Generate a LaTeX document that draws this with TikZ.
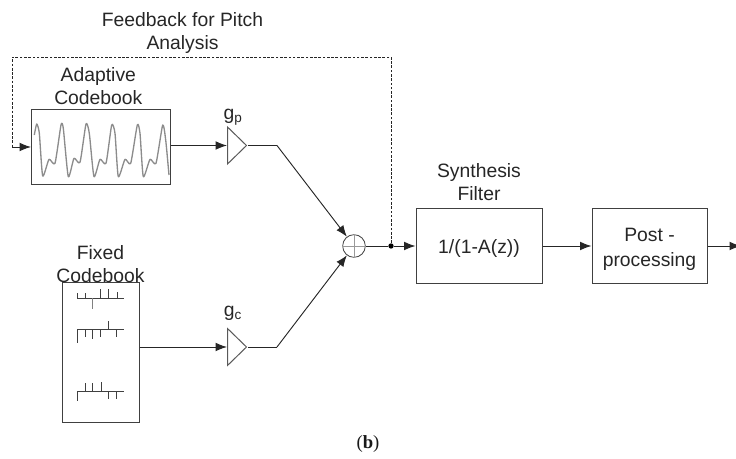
\documentclass[tikz,border=0pt]{standalone}
\usepackage{fontspec}
\setmainfont{Liberation Sans}
\newfontfamily\capfont{Liberation Serif}
\usetikzlibrary{arrows.meta,positioning,shapes.geometric}
\tikzset{
  wire/.style={draw=black!85, line width=0.7pt},
  arrowwire/.style={wire, -{Latex[length=8.5pt,width=6.5pt]}},
  blockbox/.style={draw=black!75, line width=0.75pt, inner sep=0pt, align=center},
  gainamp/.style={isosceles triangle, isosceles triangle stretches, draw=black!65, line width=0.75pt,
    minimum width=27.75pt, minimum height=14.25pt, inner sep=0pt, anchor=lower side},
  blocktext/.style={font=\fontsize{14.5}{17.25}\selectfont, text=black!85, align=center, inner sep=0pt},
  comb/.style={draw=black!75, line width=0.6pt},
}
\begin{document}
\begin{tikzpicture}[x=0.75pt,y=-0.75pt]
  \useasboundingbox (0,0) rectangle (736,459);
  % blocks
  \node[blockbox, minimum width=104.25pt, minimum height=55.9pt] (adaptive) at (101,147.2) {};
  \node[blockbox, minimum width=57.75pt, minimum height=105pt] (fixed) at (100.5,353) {};
  \node[blockbox, blocktext, draw=black!75, minimum width=94.5pt, minimum height=56.25pt] (synth) at (479,246.5) {\rule{0pt}{14pt}1/(1-A(z))};
  \node[blockbox, blocktext, draw=black!75, minimum width=86.25pt, minimum height=56.25pt, font=\fontsize{14.5}{18.5}\selectfont] (post) at (649.5,246.5) {\rule{0pt}{14pt}Post -\\processing};
  % gains
  \node[gainamp] (gainp) at (227,145.5) {};
  \node[gainamp] (gainc) at (227,347) {};
  % sum
  \node[circle, draw=black!75, line width=0.6pt, minimum size=17pt, inner sep=0pt] (sum) at (354,246) {};
  \draw[black!40, line width=0.6pt] (sum.north) -- (sum.south) (sum.west) -- (sum.east);
  % labels
  \node[blocktext, above=3pt of adaptive, xshift=-2pt] (adaptlabel) {Adaptive\\Codebook};
  \node[blocktext, above=0pt of fixed] (fixedlabel) {Fixed\\Codebook};
  \node[blocktext, above=6pt of synth] (synthlabel) {Synthesis\\Filter};
  \node[blocktext] (feedlabel) at (182.5,33) {Feedback for Pitch\\Analysis};
  \node[blocktext] (gplabel) at (233,117) {g\textsubscript{p}};
  \node[blocktext] (gclabel) at (233,313) {g\textsubscript{c}};
  \node[font=\capfont\fontsize{14}{16}\selectfont, text=black!90, inner sep=0pt] (caption) at (368,444) {(\textbf{b})};
  % helper points
  \coordinate (bendp) at (277,145.5);
  \coordinate (bendc) at (277,347);
  \coordinate (outp) at (741,246);
  \node[circle, fill=black, minimum size=4pt, inner sep=0pt] (tap) at (391,246) {};
  \coordinate (feedtr) at (tap |- 0,57);
  \coordinate (feedtl) at (12,57);
  \coordinate (feedbl) at (12,147);
  % connectors
  \draw[arrowwire] (adaptive.east |- gainp.lower side) -- (gainp.lower side);
  \draw[arrowwire] (fixed.east |- gainc.lower side) -- (gainc.lower side);
  \draw[wire] (gainp.apex) -- (bendp);
  \draw[wire] (gainc.apex) -- (bendc);
  \draw[arrowwire] (bendp) -- (sum);
  \draw[arrowwire] (bendc) -- (sum);
  \draw[wire] (sum) -- (tap);
  \draw[arrowwire] (tap) -- (synth.west |- tap);
  \draw[arrowwire] (synth.east |- tap) -- (post.west |- tap);
  \draw[arrowwire] (post.east |- tap) -- (outp);
  % feedback
  \draw[wire, line width=0.5pt, dash pattern=on 2pt off 1.2pt] (tap) -- (feedtr) -- (feedtl) -- (feedbl);
  \draw[arrowwire] (feedbl) -- (adaptive.west |- feedbl);
  % waveform
  \draw[black!45, line width=1pt, line join=round] plot[smooth, tension=0.35] coordinates {
    (34.3,135) (36.7,124) (39.3,133) (42.7,176) (49,159.3) (55,163.3) (61,125) (63.3,128.3) (68.3,176.7)
    (74,158.3) (80,162.3) (86,124) (89.3,133.3) (94,176.7) (100,159.3) (106,163.3) (111.7,125) (115,133.3)
    (118.3,176.7) (125,159.3) (130.7,163.3) (137.3,125) (140,133.3) (143.3,176.7) (150,159.3) (156,163.3)
    (162.7,125) (165.7,140) (169,175)};
  % comb lines
  \draw[comb] (77.3,298.3) -- (124.3,298.3);
  \foreach \tx/\ty in {77.3/292.7,85/293.3,100.7/289.3,108.3/289.3,117.3/291.7}
    \draw[comb] (\tx,298.3) -- (\tx,\ty);
  \draw[comb, black!50] (92.7,298.3) -- (92.7,309.3);
  \draw[comb] (77.3,329.3) -- (124.3,329.3);
  \foreach \tx/\ty in {77.3/343.3,85/336.7,92.7/338.7,100.7/336.7,108.3/320.7,116/336.7}
    \draw[comb] (\tx,329.3) -- (\tx,\ty);
  \draw[comb] (77.3,391.7) -- (124.3,391.7);
  \foreach \tx/\ty in {77.3/400.7,85/382.7,92.7/382.7,101.7/381.7,108.3/399.3,116/399.3}
    \draw[comb] (\tx,391.7) -- (\tx,\ty);
\end{tikzpicture}
\end{document}
